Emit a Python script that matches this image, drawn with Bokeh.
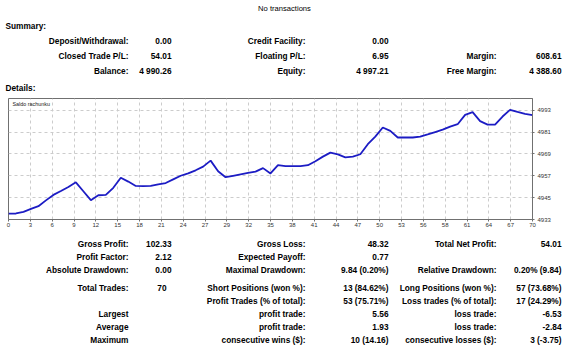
from bokeh.plotting import figure
from bokeh.layouts import column, row
from bokeh.models import FixedTicker, Range1d, Label
from bokeh.core.properties import value
from bokeh.embed import file_html
from bokeh.resources import INLINE

# ---------------- data ----------------
trade_no = list(range(71))
balance = [
    4936.25, 4936.3, 4937.2, 4938.8, 4940.3, 4943.5, 4946.5, 4948.6, 4950.8, 4953.4,
    4948.5, 4943.6, 4946.3, 4946.5, 4950.4, 4955.9, 4953.8, 4951.4, 4951.3, 4951.4,
    4952.3, 4953.0, 4955.0, 4957.0, 4958.3, 4960.0, 4962.0, 4965.3, 4959.5, 4956.2,
    4957.0, 4957.8, 4958.6, 4959.3, 4961.2, 4958.3, 4962.8, 4962.3, 4962.3, 4962.3,
    4962.8, 4965.0, 4967.5, 4969.7, 4968.7, 4967.1, 4967.5, 4968.8, 4974.3, 4978.5,
    4983.5, 4981.6, 4978.0, 4978.0, 4978.0, 4978.5, 4979.7, 4981.0, 4982.3, 4984.0,
    4985.3, 4990.4, 4991.9, 4987.0, 4985.1, 4985.1, 4989.5, 4993.2, 4992.0, 4991.0,
    4990.26,
]
x_tick_labels = ["0", "3", "6", "9", "12", "15", "18", "21", "24", "27", "29", "32", "35",
                 "38", "41", "44", "47", "50", "53", "56", "58", "61", "64", "67", "70"]
y_ticks = [4933, 4945, 4957, 4969, 4981, 4993]
chart_title = "Saldo rachunku"

header_text = "No transactions"
summary_title = "Summary:"
details_title = "Details:"

summary_label1 = ["Deposit/Withdrawal:", "Closed Trade P/L:", "Balance:"]
summary_value1 = ["0.00", "54.01", "4 990.26"]
summary_label2 = ["Credit Facility:", "Floating P/L:", "Equity:"]
summary_value2 = ["0.00", "6.95", "4 997.21"]
summary_label3 = ["", "Margin:", "Free Margin:"]
summary_value3 = ["", "608.61", "4 388.60"]

details_label1 = ["Gross Profit:", "Profit Factor:", "Absolute Drawdown:", "Total Trades:", "",
                  "Largest", "Average", "Maximum"]
details_value1 = ["102.33", "2.12", "0.00", "70", "", "", "", ""]
details_label2 = ["Gross Loss:", "Expected Payoff:", "Maximal Drawdown:", "Short Positions (won %):",
                  "Profit Trades (% of total):", "profit trade:", "profit trade:", "consecutive wins ($):"]
details_value2 = ["48.32", "0.77", "9.84 (0.20%)", "13 (84.62%)", "53 (75.71%)", "5.56", "1.93",
                  "10 (14.16)"]
details_label3 = ["Total Net Profit:", "", "Relative Drawdown:", "Long Positions (won %):",
                  "Loss trades (% of total):", "loss trade:", "loss trade:", "consecutive losses ($):"]
details_value3 = ["54.01", "", "0.20% (9.84)", "57 (73.68%)", "17 (24.29%)", "-6.53", "-2.84",
                  "3 (-3.75)"]

# ---------------- layout constants (page pixels) ----------------
W = 570
TOP_H = 92
CHART_H = 144
BOT_H = 350 - TOP_H - CHART_H
FONT = "Liberation Sans"
BOLD_SIZE = "8.3px"
col_x = [128, 171, 305, 388, 496, 561]
srow_y = [40, 55, 70]
drow_y = [243, 256, 269, 287, 300, 313, 326, 339]
val1_x = [171, 171, 171, 166, 171, 171, 171, 171]


def text_fig(h):
    f = figure(width=W, height=h, x_range=Range1d(0, W), y_range=Range1d(h, 0),
               x_axis_type=None, y_axis_type=None, output_backend="svg",
               toolbar_location=None, min_border=0)
    f.grid.visible = False
    f.outline_line_color = None
    f.background_fill_color = "white"
    f.border_fill_color = "white"
    return f


def put(f, xs, ys, texts, align="right", style="bold", size=BOLD_SIZE, dy=0):
    pts = [(x, y - dy, t) for x, y, t in zip(xs, ys, texts) if t]
    if not pts:
        return
    f.text(x=[q[0] for q in pts], y=[q[1] for q in pts], text=[q[2] for q in pts],
           text_align=align, text_baseline="middle", text_font=value(FONT),
           text_font_style=style, text_font_size=size, text_color="#000000")


# ---------------- top block ----------------
top = text_fig(TOP_H)
put(top, [284], [8], [header_text], align="center", style="normal", size="7.6px")
put(top, [5], [25], [summary_title], align="left")
put(top, [5], [87], [details_title], align="left")
for cx, arr in zip(col_x, [summary_label1, summary_value1, summary_label2, summary_value2,
                           summary_label3, summary_value3]):
    put(top, [cx] * len(arr), srow_y, arr)

# ---------------- chart ----------------
p = figure(width=W, height=CHART_H, x_range=Range1d(0, trade_no[-1]), y_range=Range1d(4933, 4999.4),
           y_axis_location="right", output_backend="svg", toolbar_location=None,
           min_border_left=8, min_border_right=38, min_border_top=6, min_border_bottom=17)
p.background_fill_color = "white"
p.border_fill_color = "white"
p.outline_line_color = "#707070"
p.outline_line_width = 1

n_int = len(x_tick_labels) - 1
x_ticks = [i * trade_no[-1] / n_int for i in range(n_int + 1)]
xt = FixedTicker(ticks=x_ticks)
yt = FixedTicker(ticks=y_ticks)
p.xaxis.ticker = xt
p.yaxis.ticker = yt
p.xgrid.ticker = xt
p.ygrid.ticker = yt
p.xaxis.major_label_overrides = {t: lab for t, lab in zip(x_ticks, x_tick_labels)}

for ax in (p.xaxis, p.yaxis):
    ax.axis_line_color = "#707070"
    ax.major_tick_line_color = "#707070"
    ax.major_tick_in = 0
    ax.major_tick_out = 2
    ax.minor_tick_line_color = None
    ax.major_label_text_font = FONT
    ax.major_label_text_font_size = "6px"
    ax.major_label_text_color = "#333333"
p.xaxis.major_label_standoff = 1
p.yaxis.major_label_standoff = 3

for g in (p.xgrid, p.ygrid):
    g.grid_line_color = "#cccccc"
    g.grid_line_dash = "3 3"
    g.grid_line_width = 1

p.line(trade_no, balance, line_color="#1c1cc4", line_width=1.8)
p.add_layout(Label(x=0, y=4999.4, x_offset=4, y_offset=-2, text=chart_title,
                   text_font=FONT, text_font_size="5.4px", text_baseline="top",
                   text_color="#222222"))

# ---------------- bottom block ----------------
bot = text_fig(BOT_H)
off = TOP_H + CHART_H
put(bot, [col_x[0]] * len(details_label1), drow_y, details_label1, dy=off)
put(bot, val1_x, drow_y, details_value1, dy=off)
for cx, arr in zip(col_x[2:], [details_label2, details_value2, details_label3, details_value3]):
    put(bot, [cx] * len(arr), drow_y, arr, dy=off)

page = column(row(top), row(p), row(bot), spacing=0)
open("out.html", "w").write(file_html(page, INLINE))
